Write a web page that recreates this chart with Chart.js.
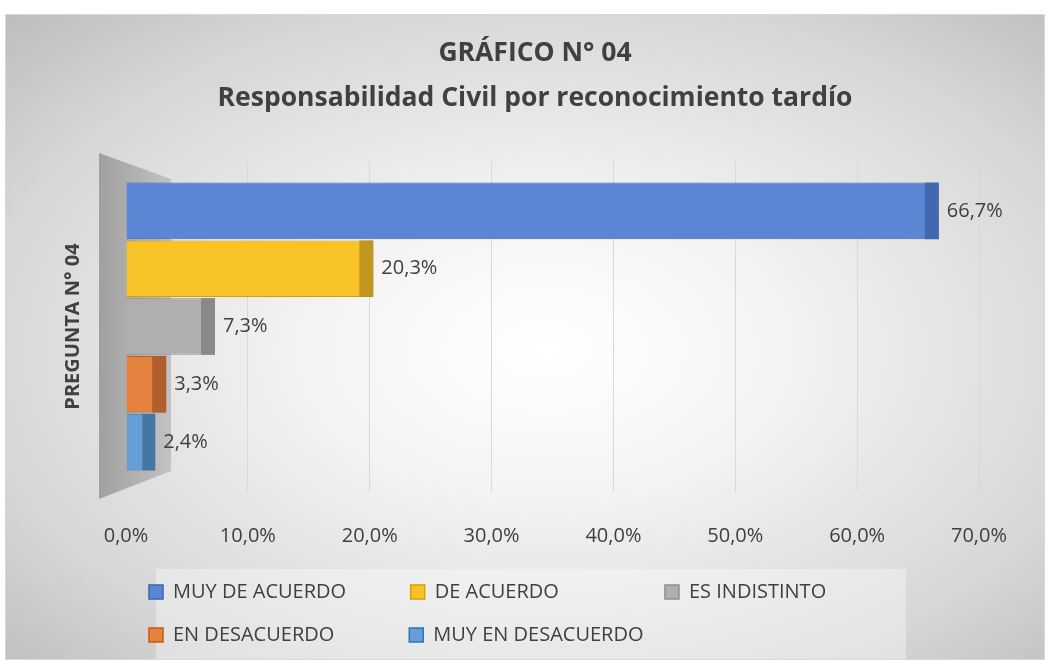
<!DOCTYPE html>
<html>
<head>
<meta charset="utf-8">
<script src="https://cdn.jsdelivr.net/npm/chart.js@4"></script>
<style>
  html, body { margin: 0; padding: 0; background: #ffffff; }
  #wrap {
    position: absolute; left: 5px; top: 14px; width: 1040px; height: 646px;
    box-sizing: border-box; border: 1px solid #d9d9d9;
    background: radial-gradient(ellipse farthest-corner at 52% 52%, #ffffff 0%, #f4f4f4 30%, #d6d6d6 75%, #bdbdbd 100%);
  }
</style>
</head>
<body>
<div id="wrap"><canvas id="chart"></canvas></div>
<script>
const categories = ['PREGUNTA N° 04'];
const seriesNames = ['MUY DE ACUERDO', 'DE ACUERDO', 'ES INDISTINTO', 'EN DESACUERDO', 'MUY EN DESACUERDO'];
const seriesValues = [66.7, 20.3, 7.3, 3.3, 2.4];
const xTickLabels = ['0,0%', '10,0%', '20,0%', '30,0%', '40,0%', '50,0%', '60,0%', '70,0%'];

const fillColors = ['#5a86d3', '#f8c327', '#afafaf', '#e5823f', '#64a0d6'];
const edgeColors = ['#3b64b0', '#d4a200', '#8f8f8f', '#c55a11', '#2e75b6'];
const sideColors = ['#3e63a8', '#b88f1e', '#828282', '#a85b2a', '#41709a'];

const FONT = '"Open Sans", "Liberation Sans", sans-serif';
const TEXT = '#404040';
const LABEL_SIZE = 20;

function fmt(v) {
  return v.toFixed(1).replace('.', ',') + '%';
}

// grey side wall + legend panel behind everything
const decor = {
  id: 'decor',
  beforeDatasetsDraw(chart) {
    const {ctx, chartArea: ca} = chart;
    ctx.save();
    const g = ctx.createLinearGradient(ca.left - 27, 0, ca.left + 45, 0);
    g.addColorStop(0, '#a0a0a0');
    g.addColorStop(1, '#c2c2c2');
    ctx.fillStyle = g;
    ctx.beginPath();
    ctx.moveTo(ca.left - 27, ca.top - 8);
    ctx.lineTo(ca.left + 45, ca.top + 18);
    ctx.lineTo(ca.left + 45, ca.bottom - 21);
    ctx.lineTo(ca.left - 27, ca.bottom + 7);
    ctx.closePath();
    ctx.fill();
    ctx.restore();
  },
  beforeDraw(chart) {
    const {ctx, chartArea: ca, legend} = chart;
    ctx.save();
    ctx.fillStyle = 'rgba(255,255,255,0.35)';
    ctx.fillRect(ca.left + 30, legend.top + 10, 750, chart.height - legend.top - 10);
    ctx.restore();
  }
};

// darker end face for a 3d look, then the value labels
const barFaces = {
  id: 'barFaces',
  afterDatasetsDraw(chart) {
    const {ctx} = chart;
    ctx.save();
    chart.data.datasets.forEach((ds, i) => {
      const meta = chart.getDatasetMeta(i);
      meta.data.forEach((el, j) => {
        const p = el.getProps(['x', 'y', 'base', 'height'], true);
        const w = p.x - p.base;
        const d = Math.min(14, w * 0.45);
        ctx.fillStyle = sideColors[i];
        ctx.globalAlpha = 0.85;
        ctx.fillRect(p.x - d, p.y - p.height / 2, d, p.height);
        ctx.globalAlpha = 1;
        ctx.font = LABEL_SIZE + 'px ' + FONT;
        ctx.fillStyle = TEXT;
        ctx.textAlign = 'left';
        ctx.textBaseline = 'middle';
        ctx.fillText(fmt(ds.data[j]), p.x + 8, p.y);
      });
    });
    ctx.restore();
  }
};

// pad legend texts so both rows line up in columns
const colTargets = [210, 203, 0];
function legendLabels(chart) {
  const ctx = chart.ctx;
  ctx.save();
  ctx.font = LABEL_SIZE + 'px ' + FONT;
  const items = chart.data.datasets.map((ds, i) => {
    let text = ds.label;
    const target = colTargets[i % 3];
    while (target && ctx.measureText(text).width < target) text += ' ';
    return {
      text: text,
      fillStyle: ds.backgroundColor,
      strokeStyle: ds.borderColor,
      lineWidth: 1.5,
      fontColor: TEXT,
      hidden: !chart.isDatasetVisible(i),
      datasetIndex: i
    };
  });
  ctx.restore();
  return items;
}

const ctx = document.getElementById('chart').getContext('2d');
new Chart(ctx, {
  type: 'bar',
  data: {
    labels: categories,
    datasets: seriesNames.map((name, i) => ({
      label: name,
      data: [seriesValues[i]],
      backgroundColor: fillColors[i],
      borderColor: edgeColors[i],
      borderWidth: 1,
      categoryPercentage: 0.873,
      barPercentage: 0.98
    }))
  },
  options: {
    indexAxis: 'y',
    responsive: true,
    maintainAspectRatio: false,
    animation: false,
    layout: { padding: { left: 55, right: 35, top: 0, bottom: 4 } },
    plugins: {
      title: {
        display: true,
        text: ['GRÁFICO N° 04', 'Responsabilidad Civil por reconocimiento tardío'],
        color: TEXT,
        font: { family: FONT, size: 26.5, weight: 'bold', lineHeight: 45 / 26.5 },
        padding: { top: 15.5, bottom: 40.5 }
      },
      legend: {
        position: 'bottom',
        align: 'start',
        fullSize: false,
        labels: {
          color: TEXT,
          font: { family: FONT, size: LABEL_SIZE },
          boxWidth: 14,
          boxHeight: 14,
          padding: 23,
          generateLabels: legendLabels
        }
      },
      tooltip: { enabled: false }
    },
    scales: {
      x: {
        min: 0,
        max: 70,
        ticks: {
          stepSize: 10,
          padding: 32,
          color: TEXT,
          font: { family: FONT, size: LABEL_SIZE, lineHeight: 1.2 },
          callback: (v, i) => xTickLabels[i]
        },
        grid: { color: '#d9d9d9', drawTicks: false },
        border: { display: false },
        afterFit: (s) => { s.height = 67; }
      },
      y: {
        ticks: { display: false },
        grid: { display: false },
        border: { display: false },
        title: {
          display: true,
          text: 'PREGUNTA N° 04',
          color: TEXT,
          font: { family: FONT, size: 20, weight: 'bold' },
          padding: { top: 0, bottom: 0 }
        },
        afterFit: (s) => { s.width = 65; }
      },
      yRight: {
        type: 'category',
        position: 'right',
        ticks: { display: false },
        grid: { display: false },
        border: { display: false },
        afterFit: (s) => { s.width = 30; }
      }
    }
  },
  plugins: [decor, barFaces]
});
</script>
</body>
</html>
